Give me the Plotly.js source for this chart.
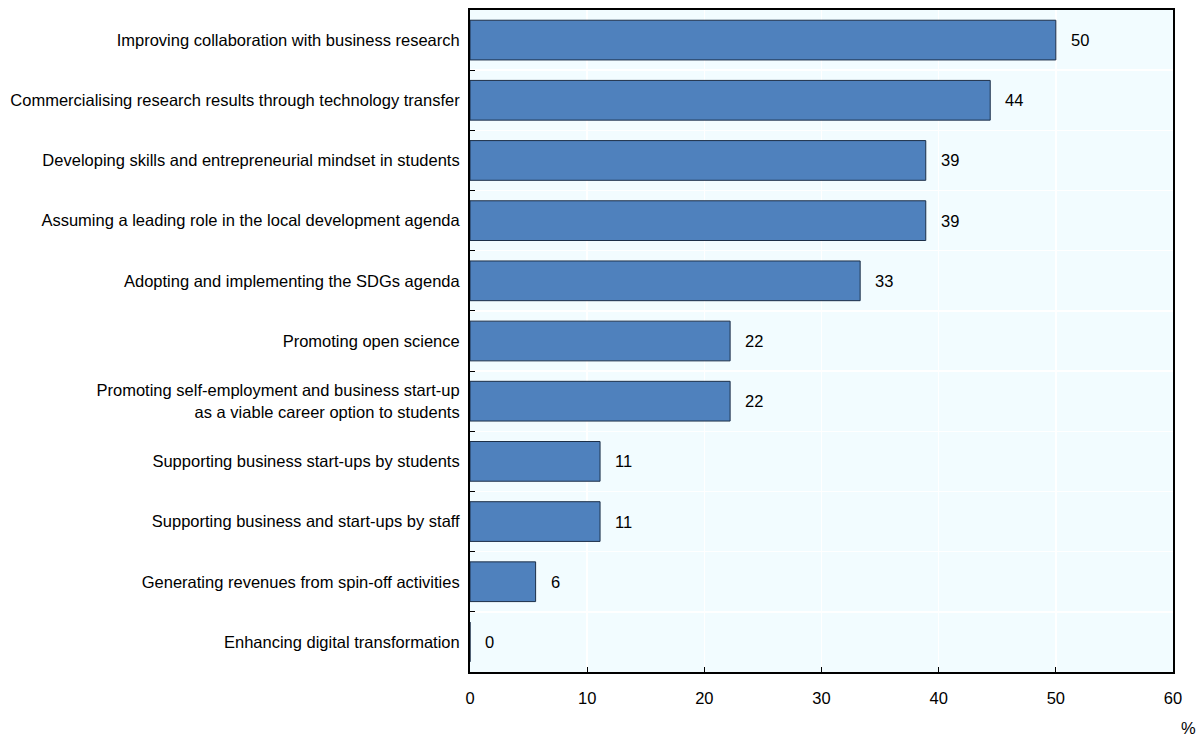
<!DOCTYPE html>
<html>
<head>
<meta charset="utf-8">
<script src="https://cdn.plot.ly/plotly-3.0.1.min.js"></script>
<style>html,body{margin:0;padding:0;background:#fff;}#chart{width:1197px;height:736px;}</style>
</head>
<body>
<div id="chart"></div>
<script>
const categories = [
  "Improving collaboration with business research",
  "Commercialising research results through technology transfer",
  "Developing skills and entrepreneurial mindset in students",
  "Assuming a leading role in the local development agenda",
  "Adopting and implementing the SDGs agenda",
  "Promoting open science",
  "Promoting self-employment and business start-up<br>as a viable career option to students",
  "Supporting business start-ups by students",
  "Supporting business and start-ups by staff",
  "Generating revenues from spin-off activities",
  "Enhancing digital transformation"
];
const values = [50, 44.4, 38.9, 38.9, 33.3, 22.2, 22.2, 11.1, 11.1, 5.6, 0];
const xTicks = [0, 10, 20, 30, 40, 50, 60];

const fontFam = '"Liberation Sans", Arial, sans-serif';
const fs = 16.5;

const trace = {
  type: 'bar',
  orientation: 'h',
  y: categories,
  x: values,
  width: 0.66,
  marker: {color: '#4F81BD', line: {color: '#1c2f48', width: 1}},
  hoverinfo: 'none'
};

const annotations = categories.map((c, i) => ({
  x: values[i], y: c, xref: 'x', yref: 'y',
  text: String(Math.round(values[i])),
  showarrow: false, xanchor: 'left', xshift: 13,
  font: {family: fontFam, size: fs, color: '#000'}
}));
annotations.push({
  x: 1, y: 0, xref: 'paper', yref: 'paper', xanchor: 'right', yanchor: 'top',
  xshift: 25, yshift: -45, text: '%', showarrow: false,
  font: {family: fontFam, size: fs, color: '#000'}
});

const layout = {
  width: 1197, height: 736,
  margin: {l: 470, r: 24, t: 10, b: 64},
  paper_bgcolor: '#ffffff',
  plot_bgcolor: '#F2FCFF',
  showlegend: false,
  font: {family: fontFam, size: fs, color: '#000'},
  xaxis: {
    range: [0, 60], tickvals: xTicks, ticktext: xTicks.map(String),
    ticks: 'inside', ticklen: 5, tickcolor: '#000', tickwidth: 1,
    showgrid: true, gridcolor: '#ffffff', gridwidth: 1.5,
    showline: true, linecolor: '#000', linewidth: 2, mirror: true,
    zeroline: false, fixedrange: true, ticklabelstandoff: 10,
    tickfont: {family: fontFam, size: fs, color: '#000'}
  },
  yaxis: {
    type: 'category', autorange: 'reversed',
    tickson: 'boundaries', ticks: 'inside', ticklen: 5, tickcolor: '#000',
    showgrid: true, gridcolor: '#ffffff', gridwidth: 1.5,
    showline: true, linecolor: '#000', linewidth: 2, mirror: true,
    zeroline: false, fixedrange: true, ticklabelstandoff: 5,
    tickfont: {family: fontFam, size: fs, color: '#000'}
  },
  annotations: annotations,
  bargap: 0.34
};

Plotly.newPlot('chart', [trace], layout, {staticPlot: true, displayModeBar: false});
</script>
</body>
</html>
